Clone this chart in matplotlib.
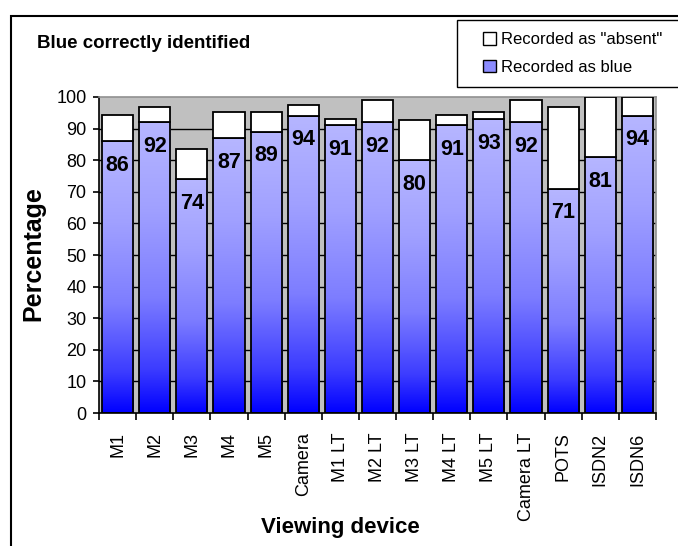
import numpy as np
import matplotlib
matplotlib.use("Agg")
import matplotlib.pyplot as plt
from matplotlib.patches import Rectangle, Patch
from matplotlib.colors import LinearSegmentedColormap

plt.rcParams['font.family'] = ['Liberation Sans', 'DejaVu Sans']

devices = ["M1", "M2", "M3", "M4", "M5", "Camera", "M1 LT", "M2 LT", "M3 LT",
           "M4 LT", "M5 LT", "Camera LT", "POTS", "ISDN2", "ISDN6"]
recorded_blue = [86, 92, 74, 87, 89, 94, 91, 92, 80, 91, 93, 92, 71, 81, 94]
recorded_absent = [8.3, 4.7, 9.4, 8.3, 6.3, 3.6, 1.9, 7.1, 12.7, 3.3, 2.1, 7.0, 25.7, 19.0, 6.0]
yticks = [0, 10, 20, 30, 40, 50, 60, 70, 80, 90, 100]

fig = plt.figure(figsize=(6.78, 5.46), dpi=100)
W, H = 678, 546
ax = fig.add_axes([99 / W, 1 - 413 / H, 557 / W, 316 / H])
ax.set_facecolor('#C0C0C0')

x = np.arange(len(devices))
bw = 0.84
cmap = LinearSegmentedColormap.from_list(
    'bluegrad',
    [(0.0, (0.0, 0.0, 1.0)),
     (0.15, (60 / 255, 60 / 255, 1.0)),
     (0.4, (125 / 255, 125 / 255, 1.0)),
     (0.7, (160 / 255, 160 / 255, 1.0)),
     (1.0, (182 / 255, 182 / 255, 1.0))])

for yv in yticks[1:-1]:
    ax.axhline(yv, color='black', lw=1.0, zorder=1)

bars = ax.bar(x, recorded_blue, width=bw, facecolor='none', edgecolor='black',
              linewidth=1.3, zorder=3)
grad = np.linspace(0, 1, 256).reshape(-1, 1)
for b in bars:
    x0, y0 = b.get_x(), b.get_y()
    w, h = b.get_width(), b.get_height()
    im = ax.imshow(grad, cmap=cmap, origin='lower', aspect='auto',
                   extent=(x0, x0 + w, y0, y0 + h), zorder=2)
    im.set_clip_path(b)
ax.bar(x, recorded_absent, bottom=recorded_blue, width=bw, facecolor='white',
       edgecolor='black', linewidth=1.3, zorder=3)

for xi, v in zip(x, recorded_blue):
    ax.annotate(str(v), xy=(xi, v), xytext=(0, -24), textcoords='offset pixels',
                ha='center', va='center', fontsize=15.5, fontweight='bold', zorder=5)

ax.set_xlim(-0.5, len(devices) - 0.5)
ax.set_ylim(0, 100)
ax.set_yticks(yticks)
ax.set_yticklabels([str(t) for t in yticks], fontsize=13)
ax.set_xticks(np.arange(len(devices) + 1) - 0.5)
ax.set_xticklabels([])
ax.set_xticks(x, minor=True)
ax.set_xticklabels(devices, minor=True, rotation=90, fontsize=13)
ax.tick_params(axis='x', which='major', length=5, width=1.2, direction='out')
ax.tick_params(axis='x', which='minor', length=0, pad=14)
ax.tick_params(axis='y', length=4, width=1.2, direction='out', pad=5)
for s in ['left', 'bottom']:
    ax.spines[s].set_color('black')
    ax.spines[s].set_linewidth(1.2)
for s in ['top', 'right']:
    ax.spines[s].set_color('#909090')
    ax.spines[s].set_linewidth(1.2)

fig.text(33 / W, 1 - 254 / H, 'Percentage', rotation=90, ha='center', va='center',
         fontsize=18, fontweight='bold')
fig.text(340 / W, 1 - 528 / H, 'Viewing device', ha='center', va='center',
         fontsize=16, fontweight='bold')
fig.text(37 / W, 1 - 44 / H, 'Blue correctly identified', ha='left', va='center',
         fontsize=13.5, fontweight='bold')

# chart border
fig.patches.append(Rectangle((11 / W, -0.1), 1.0, 1.1 - 16 / H, transform=fig.transFigure,
                             fill=False, edgecolor='black', linewidth=1.5))
# legend box
fig.patches.append(Rectangle((457 / W, 1 - 87 / H), 0.5, 67 / H, transform=fig.transFigure,
                             facecolor='white', edgecolor='black', linewidth=1.0))
handles = [Patch(facecolor='white', edgecolor='black', linewidth=1.0),
           Patch(facecolor='#8c8cff', edgecolor='black', linewidth=1.0)]
fig.legend(handles, ['Recorded as "absent"', 'Recorded as blue'],
           loc='center left', bbox_to_anchor=(483 / W, 1 - 53.5 / H),
           frameon=False, fontsize=12, handlelength=0.75, handleheight=0.75,
           handletextpad=0.35, labelspacing=0.75, borderpad=0, borderaxespad=0)

fig.savefig('out.png', dpi=100)
